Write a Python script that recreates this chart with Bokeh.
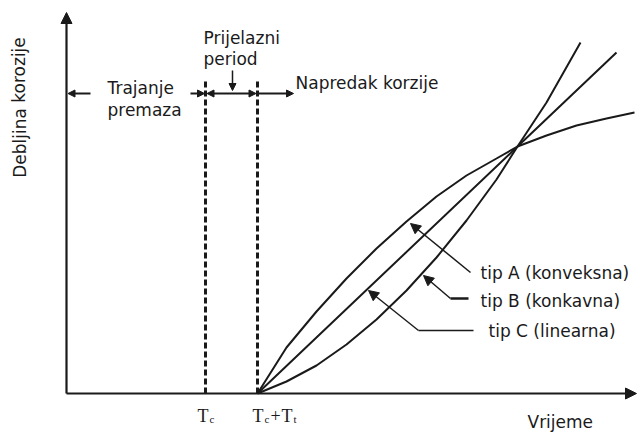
from bokeh.plotting import figure
from bokeh.models import Range1d, Arrow, NormalHead
from bokeh.core.properties import value
from bokeh.embed import file_html
from bokeh.resources import INLINE

# ---------------- data (time units on x, corrosion thickness on y) ----------------
T_C = 13.9          # trajanje premaza
T_T = 5.2           # prijelazni period
T_START = T_C + T_T

# tip A (konveksna)
conv_t = [19.1, 22.0, 25.0, 28.0, 31.0, 34.0, 37.0, 40.0, 43.0, 45.1, 48.0, 51.0, 54.0, 56.8]
conv_y = [0.0, 4.6, 8.2, 11.5, 14.5, 17.2, 19.7, 21.8, 23.5, 24.7, 25.8, 26.8, 27.5, 28.1]
# tip C (linearna)
lin_t = [19.1, 45.1, 55.0]
lin_y = [0.0, 24.7, 34.1]
# tip B (konkavna)
conc_t = [19.1, 22.0, 25.0, 28.0, 31.0, 34.0, 37.0, 40.0, 43.0, 45.1, 48.0, 51.4]
conc_y = [0.0, 1.2, 2.8, 4.9, 7.4, 10.3, 13.6, 17.3, 21.4, 24.7, 29.1, 35.1]

curve_labels = ["tip A (konveksna)", "tip B (konkavna)", "tip C (linearna)"]
phase_labels = ["Trajanje", "premaza", "Prijelazni", "period", "Napredak korzije"]
x_title = "Vrijeme"
y_title = "Debljina korozije"
tick_main = ["T", "T", "+", "T"]
tick_sub = ["c", "c", "t"]

# ---------------- layout (data units) ----------------
X_MIN, X_MAX = -6.6, 57.1
Y_MIN, Y_MAX = -3.9, 39.3
X_AXIS_END = 57.0
Y_AXIS_END = 38.1
PHASE_Y = 30.0
DASH_TOP = 31.5

FONT = value("DejaVu Sans")
SERIF = value("Liberation Serif")
INK = "#1a1a1a"
FS = "17px"

p = figure(width=637, height=432, x_range=Range1d(X_MIN, X_MAX), y_range=Range1d(Y_MIN, Y_MAX),
           x_axis_type=None, y_axis_type=None, output_backend="svg", toolbar_location=None,
           min_border=0)
p.grid.visible = False
p.outline_line_color = None
p.background_fill_color = "white"
p.border_fill_color = "white"

def head(size=10):
    return NormalHead(size=size, fill_color=INK, line_color=INK, line_width=1)

# axes with arrows
p.add_layout(Arrow(end=head(11), x_start=0, y_start=0, x_end=X_AXIS_END, y_end=0,
                   line_width=2.2, line_color=INK))
p.add_layout(Arrow(end=head(11), x_start=0, y_start=0, x_end=0, y_end=Y_AXIS_END,
                   line_width=2.2, line_color=INK))

# dashed vertical phase boundaries
for xv in [T_C, T_START]:
    p.line([xv, xv], [0, DASH_TOP], line_width=3, line_color=INK, line_dash="6 3")

# phase arrows
p.add_layout(Arrow(end=head(7), x_start=2.4, y_start=PHASE_Y, x_end=0.15, y_end=PHASE_Y,
                   line_width=2, line_color=INK))
p.add_layout(Arrow(end=head(7), x_start=T_C - 1.5, y_start=PHASE_Y, x_end=T_C - 0.1, y_end=PHASE_Y,
                   line_width=2, line_color=INK))
p.add_layout(Arrow(start=head(7), end=head(7), x_start=T_C + 0.15, y_start=PHASE_Y,
                   x_end=T_START - 0.15, y_end=PHASE_Y, line_width=2, line_color=INK))
p.add_layout(Arrow(end=head(7), x_start=T_START + 0.1, y_start=PHASE_Y, x_end=22.7, y_end=PHASE_Y,
                   line_width=2, line_color=INK))
p.add_layout(Arrow(end=head(7), x_start=16.6, y_start=32.3, x_end=16.6, y_end=30.3,
                   line_width=1.5, line_color=INK))

# curves
p.line(conv_t, conv_y, line_width=2, line_color=INK)
p.line(lin_t, lin_y, line_width=2, line_color=INK)
p.line(conc_t, conc_y, line_width=2, line_color=INK)

# leader lines
p.add_layout(Arrow(end=head(10), x_start=40.4, y_start=12.1, x_end=34.4, y_end=17.0,
                   line_width=1.5, line_color=INK))
p.line([40.2, 38.4], [9.5, 9.5], line_width=2.5, line_color=INK)
p.add_layout(Arrow(end=head(10), x_start=38.4, y_start=9.5, x_end=35.7, y_end=11.8,
                   line_width=1.5, line_color=INK))
p.line([40.7, 35.2], [6.3, 6.3], line_width=1.5, line_color=INK)
p.add_layout(Arrow(end=head(10), x_start=35.2, y_start=6.3, x_end=30.2, y_end=10.3,
                   line_width=1.5, line_color=INK))

# texts
p.text(x=[41.4, 41.4, 42.2], y=[12.1, 9.3, 6.3], text=curve_labels, text_font=FONT,
       text_font_size=FS, text_align="left", text_baseline="middle", text_color=INK)
p.text(x=[4.1, 4.1, 13.7, 13.7, 22.9], y=[30.6, 28.4, 35.6, 33.5, 31.1], text=phase_labels,
       text_font=FONT, text_font_size=FS, text_align="left", text_baseline="alphabetic",
       text_color=INK)
p.text(x=[46.1], y=[-2.85], text=[x_title], text_font=FONT, text_font_size=FS,
       text_align="left", text_baseline="alphabetic", text_color=INK)
p.text(x=[-4.7], y=[28.6], text=[y_title], text_font=FONT, text_font_size=FS,
       text_align="center", text_baseline="middle", angle=1.5708, text_color=INK)

# tick labels T_c and T_c+T_t
p.text(x=[T_C, T_START, T_START, T_START], y=[0, 0, 0, 0], text=tick_main,
       x_offset=[-8, -5, 13, 24], y_offset=[22, 22, 22, 22], text_font=SERIF,
       text_font_size="18px", text_align="left", text_baseline="alphabetic", text_color=INK)
p.text(x=[T_C, T_START, T_START], y=[0, 0, 0], text=tick_sub,
       x_offset=[4, 7, 36], y_offset=[25, 25, 25], text_font=SERIF, text_font_size="11px",
       text_align="left", text_baseline="alphabetic", text_color=INK)

open("out.html", "w").write(file_html(p, INLINE))
